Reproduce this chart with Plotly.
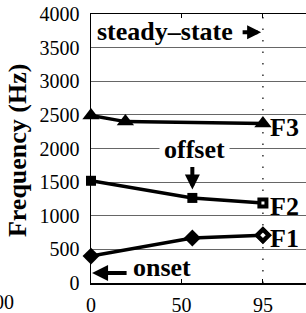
import plotly.graph_objects as go

# ---- data ----
f3_x = [0, 19, 95]
f3_y = [2490, 2400, 2370]
f2_x = [0, 56, 95]
f2_y = [1520, 1265, 1190]
f1_x = [0, 56, 95]
f1_y = [400, 670, 710]

x_ticks = [0, 50, 95]
y_ticks = [0, 500, 1000, 1500, 2000, 2500, 3000, 3500, 4000]
y_title = "Frequency (Hz)"
formant_labels = ["F3", "F2", "F1"]
neighbour_tick = "00"

FONT = "Liberation Serif"
W, H = 306, 313
ML, MT, MB, MR = 91, 14, 30, 0
XMAX = 118.8

fig = go.Figure()

line_style = dict(color="black", width=3.5)
fig.add_trace(go.Scatter(
    x=f3_x, y=f3_y, mode="lines+markers", line=line_style,
    marker=dict(symbol="triangle-up", size=15, color="black"),
    showlegend=False, cliponaxis=False, hoverinfo="skip"))
fig.add_trace(go.Scatter(
    x=f2_x, y=f2_y, mode="lines+markers", line=line_style,
    marker=dict(symbol="square", size=10, color="black"),
    showlegend=False, cliponaxis=False, hoverinfo="skip"))
fig.add_trace(go.Scatter(
    x=f1_x, y=f1_y, mode="lines+markers", line=line_style,
    marker=dict(symbol="diamond", size=13, color="black"),
    showlegend=False, cliponaxis=False, hoverinfo="skip"))
# open end markers (steady-state)
fig.add_trace(go.Scatter(
    x=f2_x[-1:], y=f2_y[-1:], mode="markers",
    marker=dict(symbol="square", size=7, color="white",
                line=dict(color="black", width=4)),
    showlegend=False, cliponaxis=False, hoverinfo="skip"))
fig.add_trace(go.Scatter(
    x=f1_x[-1:], y=f1_y[-1:], mode="markers",
    marker=dict(symbol="diamond", size=9, color="white",
                line=dict(color="black", width=4.5)),
    showlegend=False, cliponaxis=False, hoverinfo="skip"))

# dotted vertical line at steady-state
fig.add_shape(type="line", x0=x_ticks[2], x1=x_ticks[2], y0=0, y1=4000,
              xref="x", yref="y", layer="below",
              line=dict(color="black", width=1.2, dash="1.5px,10px"))

bold = dict(family=FONT, size=26, color="black")

# formant labels
for lab, ys in zip(formant_labels, [f3_y, f2_y, f1_y]):
    fig.add_annotation(x=98, y=ys[-1] - 55, text="<b>%s</b>" % lab, showarrow=False,
                       xanchor="left", yanchor="middle", font=bold)

# steady-state
fig.add_annotation(x=2, y=3740, text="<b>steady–state</b>", showarrow=False,
                   xanchor="left", yanchor="middle", font=bold)
fig.add_annotation(x=94, y=3730, ax=-20, ay=0, text="", showarrow=True,
                   arrowhead=2, arrowwidth=4, arrowsize=0.7, arrowcolor="black")

# offset
fig.add_annotation(x=57, y=1980, text="<b>offset</b>", showarrow=False,
                   xanchor="center", yanchor="middle", font=bold,
                   bgcolor="white", borderpad=4)
fig.add_annotation(x=56, y=1390, ax=0, ay=-24, text="", showarrow=True,
                   arrowhead=2, arrowwidth=4, arrowsize=0.75, arrowcolor="black")

# onset
fig.add_annotation(x=22, y=230, text="<b>onset</b>", showarrow=False,
                   xanchor="left", yanchor="middle", font=bold)
fig.add_annotation(x=0.6, y=150, ax=36, ay=0, text="", showarrow=True,
                   arrowhead=2, arrowwidth=4, arrowsize=0.8, arrowcolor="black")

# y-axis title
fig.add_annotation(xref="paper", yref="paper", x=(17 - ML) / (W - ML - MR), y=0.494,
                   text="<b>%s</b>" % y_title, textangle=-90, showarrow=False,
                   xanchor="center", yanchor="middle", font=bold)

# cropped neighbour tick label
fig.add_annotation(xref="paper", yref="paper", x=(16 - ML) / (W - ML - MR), y=-0.072,
                   text=neighbour_tick, showarrow=False, xanchor="right", yanchor="middle",
                   font=dict(family=FONT, size=20, color="black"))

fig.update_layout(
    width=W, height=H,
    margin=dict(l=ML, r=MR, t=MT, b=MB, pad=0, autoexpand=False),
    paper_bgcolor="white", plot_bgcolor="white",
    font=dict(family=FONT, size=20, color="black"),
    hovermode=False,
    xaxis=dict(range=[0, XMAX], tickvals=x_ticks, ticks="inside", ticklen=4,
               tickcolor="black", showline=True, linecolor="black", linewidth=1.5,
               mirror="ticks", showgrid=False, zeroline=False, automargin=False,
               tickfont=dict(family=FONT, size=20), ticklabelstandoff=3),
    yaxis=dict(range=[0, 4000], tickvals=y_ticks, ticks="", showline=True,
               linecolor="black", linewidth=1.5, showgrid=True, gridcolor="#666",
               gridwidth=1, zeroline=False, automargin=False,
               tickfont=dict(family=FONT, size=20), ticklabelstandoff=6),
)

fig.write_html("out.html",
               config={"displayModeBar": False, "staticPlot": True},
               post_script="document.body.style.margin='0';"
                           "document.body.style.overflow='hidden';")
